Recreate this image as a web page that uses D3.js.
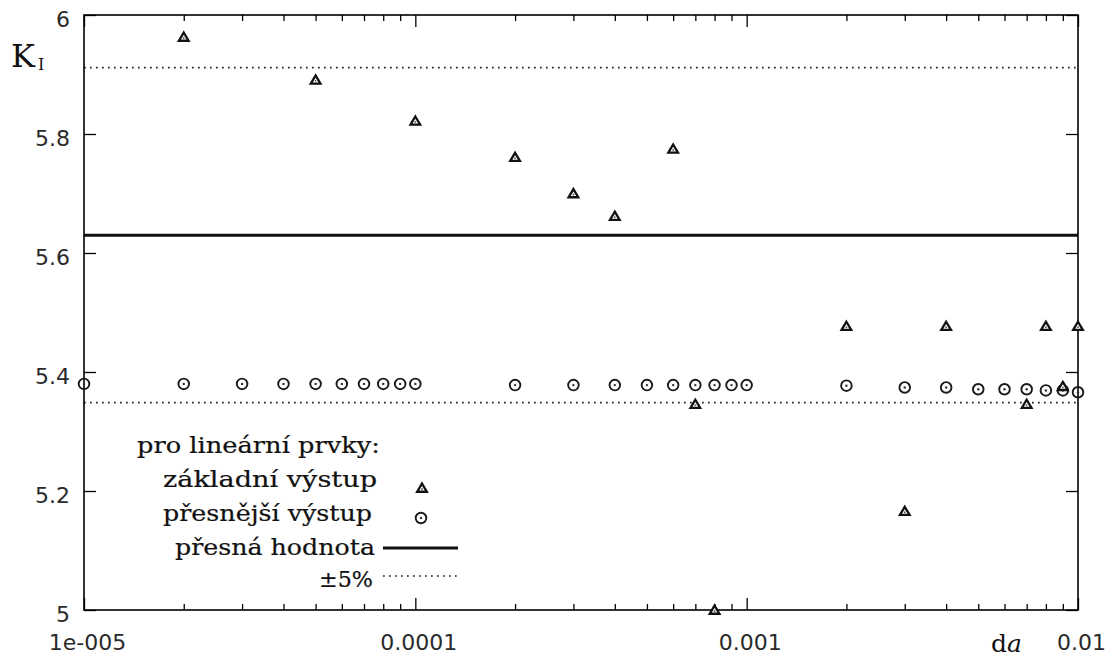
<!DOCTYPE html>
<html>
<head>
<meta charset="utf-8">
<script src="https://cdn.jsdelivr.net/npm/d3@7"></script>
<style>
  html, body { margin: 0; padding: 0; background: #fff; }
  svg { display: block; }
</style>
</head>
<body>
<svg id="chart" width="1113" height="657"></svg>
<script>
// ---- data ----
const xBasic = [2e-5, 5e-5, 1e-4, 2e-4, 3e-4, 4e-4, 6e-4, 7e-4, 8e-4, 2e-3, 3e-3, 4e-3, 7e-3, 8e-3, 9e-3, 1e-2];
const yBasic = [5.963, 5.891, 5.822, 5.761, 5.700, 5.662, 5.775, 5.346, 5.000, 5.477, 5.166, 5.477, 5.346, 5.477, 5.376, 5.477];

const xPrecise = [1e-5, 2e-5, 3e-5, 4e-5, 5e-5, 6e-5, 7e-5, 8e-5, 9e-5, 1e-4,
                  2e-4, 3e-4, 4e-4, 5e-4, 6e-4, 7e-4, 8e-4, 9e-4, 1e-3,
                  2e-3, 3e-3, 4e-3, 5e-3, 6e-3, 7e-3, 8e-3, 9e-3, 1e-2];
const yPrecise = [5.380, 5.380, 5.380, 5.380, 5.380, 5.380, 5.380, 5.380, 5.380, 5.380,
                  5.378, 5.378, 5.378, 5.378, 5.378, 5.378, 5.378, 5.378, 5.378,
                  5.377, 5.374, 5.374, 5.371, 5.371, 5.371, 5.369, 5.369, 5.366];

const exactValue = 5.63;
const bandValues = [5.9115, 5.3485];

const xMajorTicks = [1e-5, 1e-4, 1e-3, 1e-2];
const xTickLabels = ["1e-005", "0.0001", "0.001", "0.01"];
const yTicks = [5, 5.2, 5.4, 5.6, 5.8, 6];
const yTickLabels = ["5", "5.2", "5.4", "5.6", "5.8", "6"];

const legendTitle = "pro lineární prvky:";
const legendLabels = ["základní  výstup", "přesnější výstup", "přesná hodnota", "±5%"];

// ---- layout ----
const W = 1113, H = 657;
const L = 84, T = 15, R = 1078, B = 610;
const svg = d3.select("#chart");

const x = d3.scaleLog().domain([1e-5, 1e-2]).range([L, R]);
const y = d3.scaleLinear().domain([5, 6]).range([B, T]);

const minorTicks = [];
for (let e = -5; e < -2; e++) {
  for (let k = 2; k <= 9; k++) minorTicks.push(k * Math.pow(10, e));
}

const tickFont = "'DejaVu Sans', Verdana, sans-serif";
const serif = "'DejaVu Serif', 'Century Schoolbook', serif";

// axes
const gLeft = svg.append("g").attr("transform", `translate(${L},0)`)
  .call(d3.axisLeft(y).tickValues(yTicks).tickSize(-12).tickPadding(14)
    .tickFormat((d, i) => yTickLabels[i]));
const gRight = svg.append("g").attr("transform", `translate(${R},0)`)
  .call(d3.axisRight(y).tickValues(yTicks).tickSize(-12).tickFormat(""));
const gBottom = svg.append("g").attr("transform", `translate(0,${B})`)
  .call(d3.axisBottom(x).tickValues(xMajorTicks).tickSize(-12).tickPadding(24)
    .tickFormat((d, i) => xTickLabels[i]));
const gBottomMinor = svg.append("g").attr("transform", `translate(0,${B})`)
  .call(d3.axisBottom(x).tickValues(minorTicks).tickSize(-6).tickFormat(""));
const gTop = svg.append("g").attr("transform", `translate(0,${T})`)
  .call(d3.axisTop(x).tickValues(xMajorTicks).tickSize(-12).tickFormat(""));
const gTopMinor = svg.append("g").attr("transform", `translate(0,${T})`)
  .call(d3.axisTop(x).tickValues(minorTicks).tickSize(-6).tickFormat(""));

[gLeft, gRight, gBottom, gBottomMinor, gTop, gTopMinor].forEach(g => {
  g.select(".domain").remove();
  g.selectAll(".tick line").attr("stroke", "#000").attr("stroke-width", 1.3);
  g.selectAll("text").attr("font-family", tickFont).attr("font-size", 22).attr("fill", "#2a2a2a");
});
gLeft.selectAll("text").attr("dy", "0.52em");
gBottom.selectAll("text").attr("dx", 3);

// lines
const lineG = svg.append("g");
lineG.append("line")
  .attr("x1", L).attr("x2", R).attr("y1", y(exactValue)).attr("y2", y(exactValue))
  .attr("stroke", "#111").attr("stroke-width", 3);
bandValues.forEach(v => {
  lineG.append("line")
    .attr("x1", L).attr("x2", R).attr("y1", y(v)).attr("y2", y(v))
    .attr("stroke", "#222").attr("stroke-width", 1.7).attr("stroke-dasharray", "1.7,4.3");
});

// frame
svg.append("rect").attr("x", L).attr("y", T).attr("width", R - L).attr("height", B - T)
  .attr("fill", "none").attr("stroke", "#000").attr("stroke-width", 1.6);

// markers
function triPath(cx, cy) {
  const s = 4.4;
  return `M${cx},${cy - s}L${cx + s * 1.1},${cy + s * 0.85}L${cx - s * 1.1},${cy + s * 0.85}Z`;
}
function drawTriangle(g, cx, cy) {
  g.append("path").attr("d", triPath(cx, cy)).attr("fill", "#fff")
    .attr("stroke", "#111").attr("stroke-width", 2.3).attr("stroke-linejoin", "miter");
  g.append("circle").attr("cx", cx).attr("cy", cy + 1).attr("r", 0.9).attr("fill", "#555");
}
function drawCircle(g, cx, cy) {
  g.append("circle").attr("cx", cx).attr("cy", cy).attr("r", 5.3)
    .attr("fill", "none").attr("stroke", "#1a1a1a").attr("stroke-width", 1.9);
  g.append("circle").attr("cx", cx).attr("cy", cy).attr("r", 1.2).attr("fill", "#333");
}

const markG = svg.append("g");
xPrecise.forEach((d, i) => drawCircle(markG, x(d), y(yPrecise[i])));
xBasic.forEach((d, i) => drawTriangle(markG, x(d), y(yBasic[i])));

// y label K_I
const kl = svg.append("text").attr("x", 11).attr("y", 67)
  .attr("font-family", serif).attr("fill", "#111");
kl.append("tspan").attr("font-size", 32).text("K");
kl.append("tspan").attr("font-size", 16).attr("dx", 3).attr("dy", 3).text("I");

// x label da
const xl = svg.append("text").attr("x", 991).attr("y", 652)
  .attr("font-family", serif).attr("fill", "#111").attr("font-size", 25);
xl.append("tspan").text("d");
xl.append("tspan").attr("font-style", "italic").text("a");

// legend
const legG = svg.append("g").attr("font-family", serif).attr("font-size", 22)
  .attr("fill", "#111").attr("stroke", "#111").attr("stroke-width", 0.2);
legG.append("text").attr("x", 380).attr("y", 453).attr("text-anchor", "end")
  .attr("textLength", 243).attr("lengthAdjust", "spacingAndGlyphs").text(legendTitle);
const baselines = [487, 521, 555, 587];
const widths = [214, 209, 200, 54];
const rights = [377, 372, 375, 373];
legendLabels.forEach((t, i) => {
  legG.append("text").attr("x", rights[i]).attr("y", baselines[i]).attr("text-anchor", "end")
    .attr("textLength", widths[i]).attr("lengthAdjust", "spacingAndGlyphs").text(t);
});
const symG = svg.append("g");
drawTriangle(symG, 422, 488);
drawCircle(symG, 421, 518);
symG.append("line").attr("x1", 383).attr("x2", 458).attr("y1", 548).attr("y2", 548)
  .attr("stroke", "#111").attr("stroke-width", 3);
symG.append("line").attr("x1", 383).attr("x2", 458).attr("y1", 576).attr("y2", 576)
  .attr("stroke", "#222").attr("stroke-width", 1.7).attr("stroke-dasharray", "1.7,4.3");
</script>
</body>
</html>
